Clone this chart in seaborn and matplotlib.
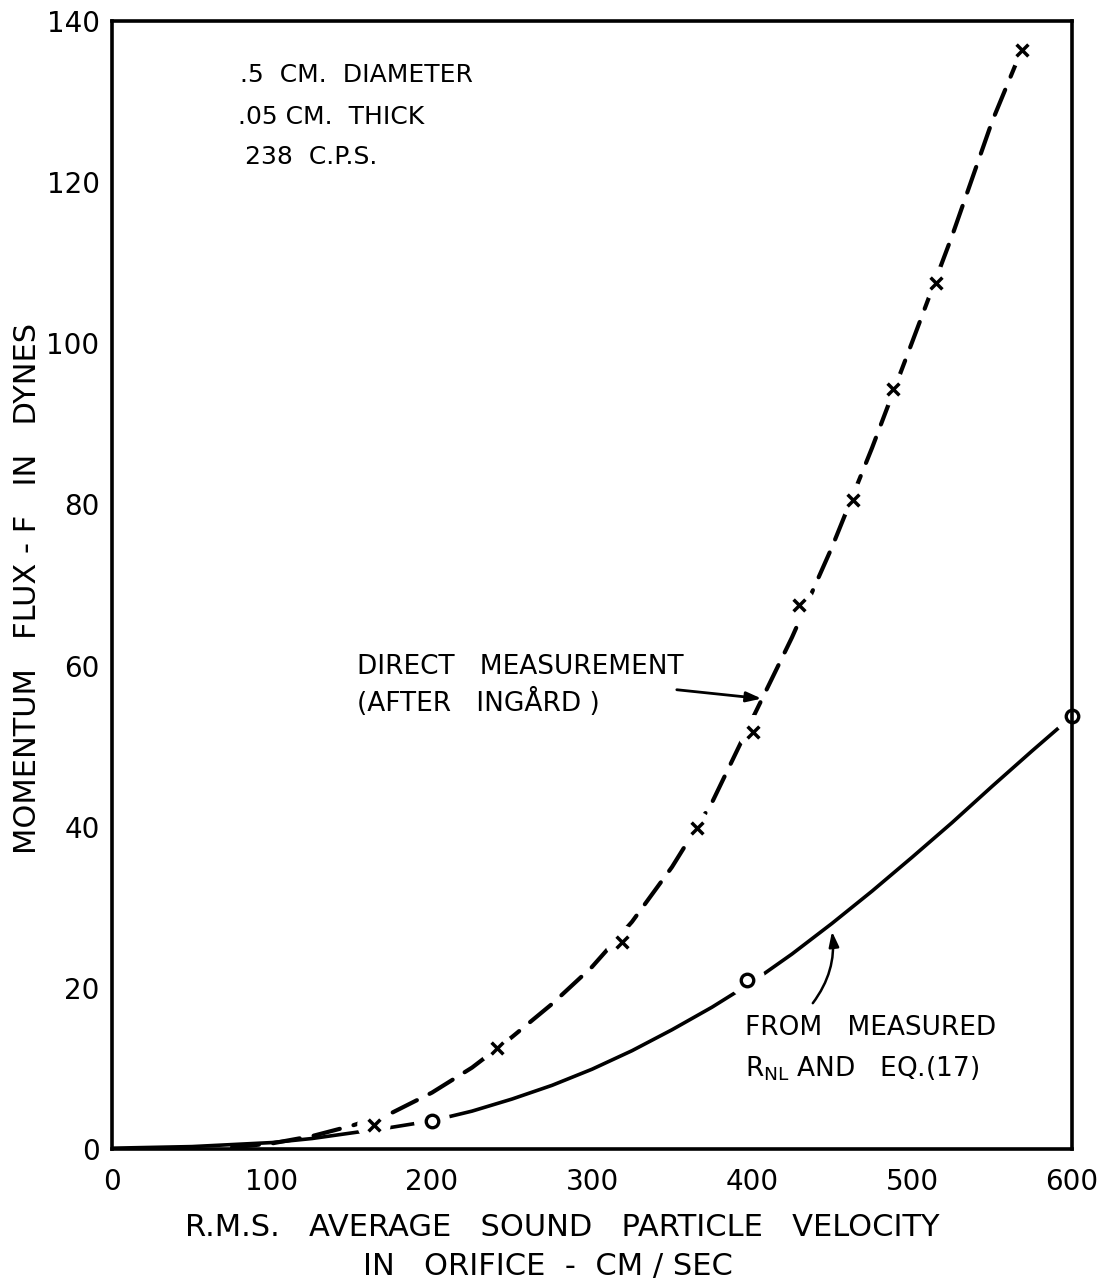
import matplotlib
matplotlib.use("Agg")
import matplotlib.pyplot as plt
import seaborn as sns

# ---- data ----
# Direct measurement (after Ingard): measured points
direct_x = [163.7, 240.4, 318.5, 365.4, 400.8, 429.6, 462.9, 488.3, 515.0, 568.5]
direct_y = [3.0, 12.5, 25.7, 39.8, 51.8, 67.5, 80.6, 94.3, 107.5, 136.4]
direct_curve_x = [75, 100, 125, 150, 175, 200, 225, 250, 275, 300, 325, 350, 375,
                  400, 425, 450, 475, 500, 525, 550, 568.5]
direct_curve_y = [0.2, 0.7, 1.6, 2.9, 4.5, 7.0, 10.1, 13.9, 18.0, 22.6, 28.2, 35.0,
                  43.0, 53.3, 63.5, 74.7, 87.0, 100.1, 113.3, 127.5, 136.4]
# From measured R_NL and Eq.(17): computed points
rnl_x = [200, 397, 600]
rnl_y = [3.5, 21.0, 53.7]
# Solid curve
rnl_curve_x = [0, 50, 100, 125, 150, 175, 200, 225, 250, 275, 300, 325, 350, 375,
               400, 425, 450, 475, 500, 525, 550, 575, 600]
rnl_curve_y = [0.1, 0.3, 0.8, 1.3, 2.0, 2.7, 3.5, 4.7, 6.2, 7.9, 9.9, 12.2, 14.8,
               17.6, 20.7, 24.2, 28.0, 32.0, 36.2, 40.5, 45.0, 49.4, 53.7]

x_ticks = [0, 100, 200, 300, 400, 500, 600]
y_ticks = [0, 20, 40, 60, 80, 100, 120, 140]

# ---- figure ----
sns.set_style("white")
plt.rcParams['font.family'] = ['DejaVu Sans']
plt.rcParams['mathtext.default'] = 'regular'

W, H = 1097, 1283
fig = plt.figure(figsize=(W / 100, H / 100), dpi=100)
ax = fig.add_axes([112 / W, 1 - 1149 / H, (1072 - 112) / W, (1149 - 21) / H])

ink = "black"

# curves
sns.lineplot(x=direct_curve_x, y=direct_curve_y, ax=ax, color=ink, lw=3.0,
             linestyle=(0, (6.5, 3.4)), dash_capstyle='round', zorder=2)
sns.lineplot(x=rnl_curve_x, y=rnl_curve_y, ax=ax, color=ink, lw=2.6,
             solid_capstyle='round', zorder=2)

# white knock-outs around the points (gaps in the line as drawn)
sns.scatterplot(x=direct_x, y=direct_y, ax=ax, s=24 ** 2, color="white",
                edgecolor="none", zorder=3, clip_on=False)
sns.scatterplot(x=rnl_x, y=rnl_y, ax=ax, s=26 ** 2, color="white",
                edgecolor="none", zorder=3, clip_on=False)
# markers
sns.scatterplot(x=direct_x, y=direct_y, ax=ax, marker="x", s=8.5 ** 2, color=ink,
                linewidth=2.5, zorder=4, clip_on=False)
sns.scatterplot(x=rnl_x, y=rnl_y, ax=ax, marker="o", s=9 ** 2, facecolor="white",
                edgecolor=ink, linewidth=2.4, zorder=5, clip_on=False)

ax.set_xlim(0, 600)
ax.set_ylim(0, 140)
ax.set_xticks(x_ticks)
ax.set_yticks(y_ticks)
ax.set_xticklabels([str(v) for v in x_ticks])
ax.set_yticklabels([str(v) for v in y_ticks])
ax.tick_params(axis='both', direction='in', length=12, width=2.2, color=ink,
               labelsize=20, labelcolor=ink)
ax.tick_params(axis='x', pad=14)
ax.tick_params(axis='y', pad=9)
ax.tick_params(top=False, right=False)
for s in ax.spines.values():
    s.set_visible(True)
    s.set_linewidth(2.6)
    s.set_color(ink)
    s.set_zorder(6)
ax.set_xlabel("")
ax.set_ylabel("")

# axis titles
fig.text(28 / W, 1 - 588 / H, "MOMENTUM   FLUX - F   IN   DYNES", rotation=90,
         ha='center', va='center', fontsize=22, color=ink)
fig.text(562 / W, 1 - 1227 / H, "R.M.S.   AVERAGE   SOUND   PARTICLE   VELOCITY",
         ha='center', va='center', fontsize=22, color=ink)
fig.text(548 / W, 1 - 1267 / H, "IN   ORIFICE  -  CM / SEC",
         ha='center', va='center', fontsize=22, color=ink)

# header notes
ax.text(80, 133.3, ".5  CM.  DIAMETER", fontsize=18, ha='left', va='center', color=ink)
ax.text(79, 128.1, ".05 CM.  THICK", fontsize=18, ha='left', va='center', color=ink)
ax.text(83, 123.1, "238  C.P.S.", fontsize=18, ha='left', va='center', color=ink)

# curve labels
ax.text(153, 59.8, "DIRECT   MEASUREMENT", fontsize=19, ha='left', va='center', color=ink)
ax.text(153, 55.4, "(AFTER   INGÅRD )", fontsize=19, ha='left', va='center', color=ink)
ax.annotate("", xy=(406, 55.9), xytext=(353, 57.0),
            arrowprops=dict(arrowstyle="-|>,head_length=0.9,head_width=0.3",
                            color=ink, lw=2.0, shrinkA=0, shrinkB=0))

ax.text(395.6, 15.0, "FROM   MEASURED", fontsize=19, ha='left', va='center', color=ink)
ax.text(395.6, 10.0, r"R$_{NL}$ AND   EQ.(17)", fontsize=19, ha='left', va='center', color=ink)
ax.annotate("", xy=(450, 27.0), xytext=(438, 18.1),
            arrowprops=dict(arrowstyle="-|>,head_length=0.9,head_width=0.3",
                            color=ink, lw=1.8, shrinkA=0, shrinkB=0,
                            connectionstyle="arc3,rad=0.2"))

fig.savefig("out.png", dpi=100, facecolor="white")
